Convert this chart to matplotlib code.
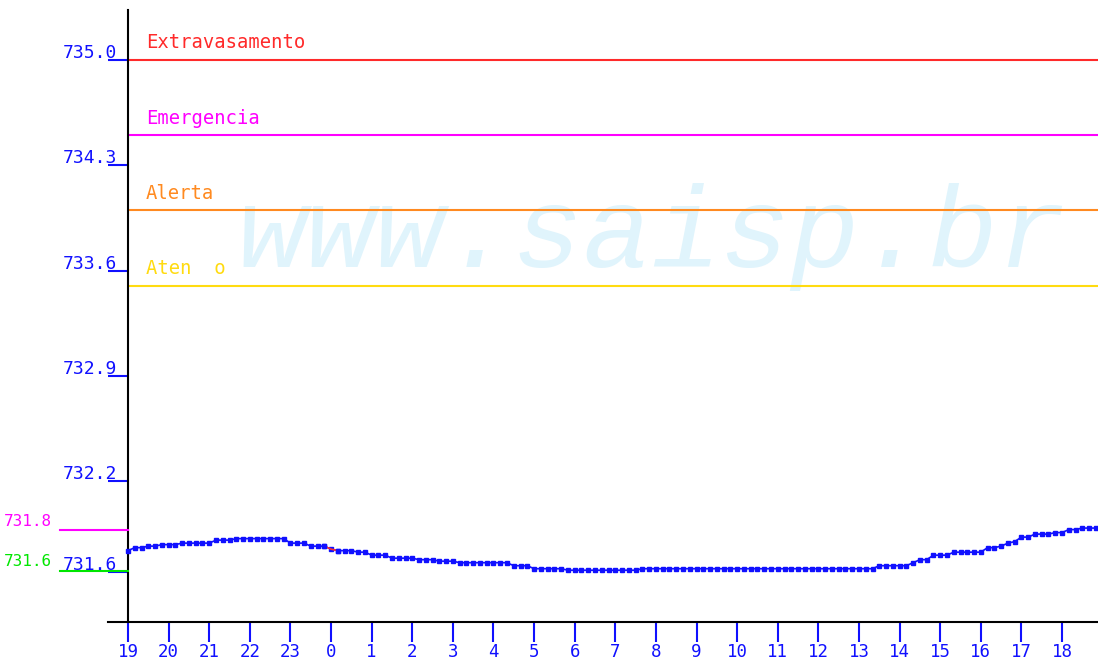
import numpy as np
import matplotlib
matplotlib.use("Agg")
import matplotlib.pyplot as plt

plt.rcParams['font.family'] = ['DejaVu Sans Mono']

# hour labels along the bottom, starting at 19h
hour_labels = ['19', '20', '21', '22', '23', '0', '1', '2', '3', '4', '5', '6',
               '7', '8', '9', '10', '11', '12', '13', '14', '15', '16', '17', '18']

# water level, one value every 10 minutes (6 per hour) from 19:00
level = [
    731.74, 731.76, 731.76, 731.77, 731.77, 731.78,   # 19
    731.78, 731.78, 731.79, 731.79, 731.79, 731.79,   # 20
    731.79, 731.81, 731.81, 731.81, 731.82, 731.82,   # 21
    731.82, 731.82, 731.82, 731.82, 731.82, 731.82,   # 22
    731.79, 731.79, 731.79, 731.77, 731.77, 731.77,   # 23
    731.75, 731.74, 731.74, 731.74, 731.73, 731.73,   # 0
    731.71, 731.71, 731.71, 731.69, 731.69, 731.69,   # 1
    731.69, 731.68, 731.68, 731.68, 731.67, 731.67,   # 2
    731.67, 731.66, 731.66, 731.66, 731.66, 731.66,   # 3
    731.66, 731.66, 731.66, 731.64, 731.64, 731.64,   # 4
    731.62, 731.62, 731.62, 731.62, 731.62, 731.61,   # 5
    731.61, 731.61, 731.61, 731.61, 731.61, 731.61,   # 6
    731.61, 731.61, 731.61, 731.61, 731.62, 731.62,   # 7
    731.62, 731.62, 731.62, 731.62, 731.62, 731.62,   # 8
    731.62, 731.62, 731.62, 731.62, 731.62, 731.62,   # 9
    731.62, 731.62, 731.62, 731.62, 731.62, 731.62,   # 10
    731.62, 731.62, 731.62, 731.62, 731.62, 731.62,   # 11
    731.62, 731.62, 731.62, 731.62, 731.62, 731.62,   # 12
    731.62, 731.62, 731.62, 731.64, 731.64, 731.64,   # 13
    731.64, 731.64, 731.66, 731.68, 731.68, 731.71,   # 14
    731.71, 731.71, 731.73, 731.73, 731.73, 731.73,   # 15
    731.73, 731.76, 731.76, 731.77, 731.79, 731.80,   # 16
    731.83, 731.83, 731.85, 731.85, 731.85, 731.86,   # 17
    731.86, 731.88, 731.88, 731.89, 731.89, 731.89,   # 18
]

yticks = [731.6, 732.2, 732.9, 733.6, 734.3, 735.0]
ytick_labels = ['731.6', '732.2', '732.9', '733.6', '734.3', '735.0']

# alert levels
limit_names = ['Extravasamento', 'Emergencia', 'Alerta', 'Aten  o']
limit_values = [735.0, 734.5, 734.0, 733.5]
limit_colors = ['#ff2a2a', '#ff00ff', '#ff8a20', '#ffdb10']

# short reference marks left of the axis
ref_labels = ['731.8', '731.6']
ref_values = [731.877, 731.607]
ref_colors = ['#ff00ff', '#00e600']

blue = '#1010ff'
t = np.arange(len(level)) / 6.0

fig = plt.figure(figsize=(10.98, 6.64), dpi=100)
ax = fig.add_axes([128 / 1098, 42 / 664, 970 / 1098, 612 / 664])
ax.set_xlim(0, 970 / 40.61)
ax.set_ylim(731.266, 735.332)

for s in ['top', 'right', 'bottom']:
    ax.spines[s].set_visible(False)
ax.spines['left'].set_color('black')
ax.spines['left'].set_linewidth(1.5)
# bottom axis line, sticks out a bit to the left
ax.plot([-20 / 970, 1], [0, 0], transform=ax.transAxes, color='black',
        lw=1.5, clip_on=False, zorder=5)

ax.text(0.54, 0.58, 'www.saisp.br', transform=ax.transAxes, ha='center',
        va='baseline', fontsize=83, family='Liberation Mono', style='italic',
        color='#e0f4fc', zorder=0)

for name, val, c in zip(limit_names, limit_values, limit_colors):
    ax.axhline(val, color=c, lw=1.5, zorder=2)
    ax.annotate(name, xy=(0, val), xycoords=('axes fraction', 'data'),
                xytext=(18, 17), textcoords='offset pixels', ha='left',
                va='center', color=c, fontsize=13.6)

for name, val, c in zip(ref_labels, ref_values, ref_colors):
    ax.plot([-68 / 970, 0], [val, val], transform=ax.get_yaxis_transform(),
            color=c, lw=1.5, clip_on=False, zorder=3)
    ax.annotate(name, xy=(0, val), xycoords=('axes fraction', 'data'),
                xytext=(-76, 9), textcoords='offset pixels', ha='right',
                va='center', color=c, fontsize=11.5, annotation_clip=False)

ax.set_yticks(yticks)
ax.tick_params(axis='y', length=14.4, width=1.5, color=blue, labelleft=False)
for val, lab in zip(yticks, ytick_labels):
    ax.annotate(lab, xy=(0, val), xycoords=('axes fraction', 'data'),
                xytext=(-11, -2), textcoords='offset pixels', ha='right',
                va='bottom', color=blue, fontsize=13, annotation_clip=False)

ax.set_xticks(range(len(hour_labels)))
ax.set_xticklabels(hour_labels)
ax.tick_params(axis='x', length=14.4, width=1.5, color=blue, labelcolor=blue,
               labelsize=12.5, pad=1)

ax.plot(t, level, color=blue, lw=1.2, marker='s', ms=2.2, mec=blue, mfc=blue,
        zorder=4, clip_on=False)
ax.plot(t[29:32], level[29:32], color='#ff3030', lw=1.2, zorder=5)
ax.plot(t[[29, 31]], [level[29], level[31]], ls='none', marker='s', ms=2.2,
        color=blue, zorder=6)

fig.savefig('out.png', dpi=100)
